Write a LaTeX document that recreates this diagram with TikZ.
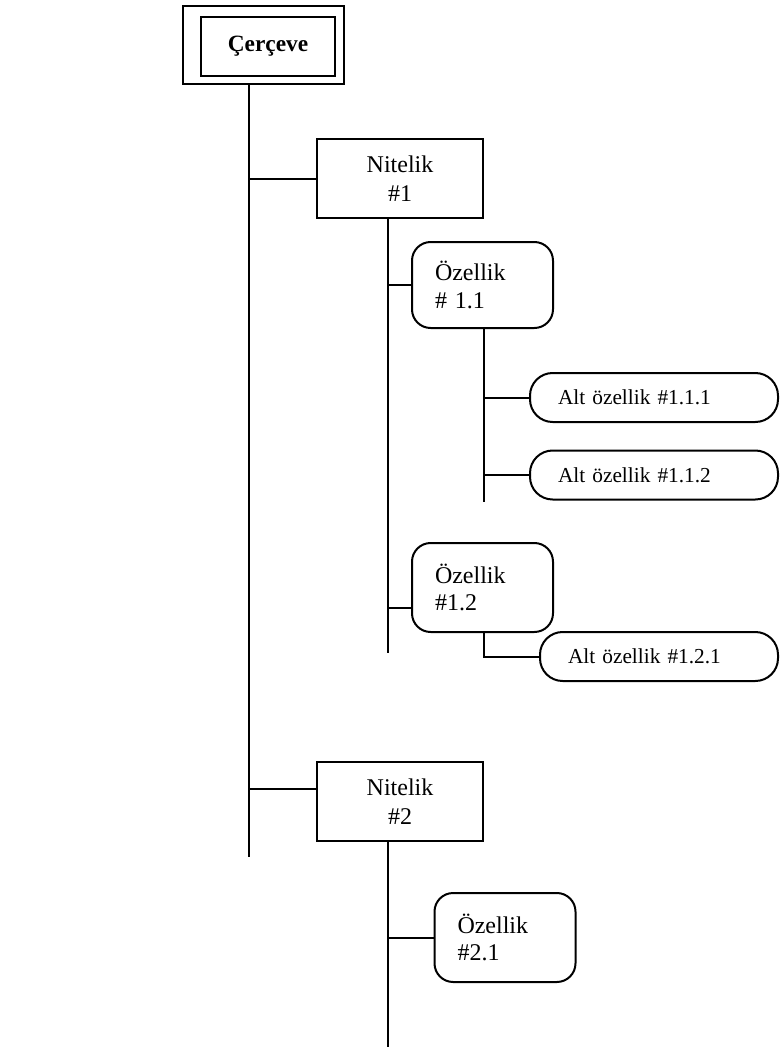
\documentclass[tikz,border=0pt]{standalone}
\usepackage{fontspec}
\setmainfont{Liberation Serif}
\usetikzlibrary{positioning,calc}

\begin{document}
\begin{tikzpicture}[
  x=0.75pt, y=-0.75pt,
  cizgi/.style={line width=1.5pt},
  cerceve/.style={rectangle, draw, line width=1.5pt, minimum width=100.5pt, minimum height=44.25pt, font=\fontsize{17.5}{20}\selectfont\bfseries},
  nitelik/.style={rectangle, draw, line width=1.5pt, align=center, minimum width=124.5pt, minimum height=59.25pt, font=\fontsize{18}{22}\selectfont},
  ozellik/.style={rectangle, rounded corners=14pt, draw, line width=1.5pt, align=left, inner xsep=17.25pt, text width=71.25pt, minimum height=64.5pt, font=\fontsize{18}{20.5}\selectfont},
  altoz/.style={rectangle, rounded corners=17pt, draw, line width=1.5pt, align=left, inner xsep=21pt, text width=144pt, minimum height=36.75pt, font=\fontsize{16}{18}\selectfont}
]
\useasboundingbox (0,0) rectangle (779,1050);
% cerceve
\node[cerceve] (cer) at (268,46.5) {Çerçeve};
\draw[cizgi] ([shift={(-17,-10)}]cer.north west) rectangle ([shift={(8,7)}]cer.south east);
\coordinate (cd) at ([shift={(0,7)}]cer.south);
\coordinate (g1) at (249,857);
\draw[cizgi] (cd -| g1) -- (g1);
% nitelik 1
\node[nitelik] (n1) at (400,178.5) {Nitelik\\\#1};
\draw[cizgi] (n1.west) -- (n1.west -| g1);
\coordinate (d1) at (388,653);
\draw[cizgi] (n1.south -| d1) -- (d1);
\node[ozellik] (o11) at (482.5,285) {Özellik\\\# 1.1};
\draw[cizgi] (o11.west) -- (o11.west -| d1);
\coordinate (d11) at (484,502);
\draw[cizgi] (o11.south -| d11) -- (d11);
\node[altoz] (a111) at (654,397.5) {Alt özellik \#1.1.1};
\draw[cizgi] (a111.west) -- (a111.west -| d11);
\node[altoz] (a112) at (654,475) {Alt özellik \#1.1.2};
\draw[cizgi] (a112.west) -- (a112.west -| d11);
\node[ozellik, minimum height=66.75pt] (o12) at (482.5,587.5) {Özellik\\\#1.2};
\coordinate (k12) at (388,608);
\draw[cizgi] (k12) -- (k12 -| o12.west);
\node[altoz, text width=136.5pt] (a121) at (659,656.5) {Alt özellik \#1.2.1};
\draw[cizgi] (o12.south -| d11) |- (a121.west);
% nitelik 2
\node[nitelik] (n2) at (400,801.5) {Nitelik\\\#2};
\coordinate (k2) at (249,789);
\draw[cizgi] (k2) -- (k2 -| n2.west);
\coordinate (d2) at (388,1047);
\draw[cizgi] (n2.south -| d2) -- (d2);
\node[ozellik, minimum height=66.75pt] (o21) at (505,937.5) {Özellik\\\#2.1};
\draw[cizgi] (o21.west) -- (o21.west -| d2);
\end{tikzpicture}
\end{document}
